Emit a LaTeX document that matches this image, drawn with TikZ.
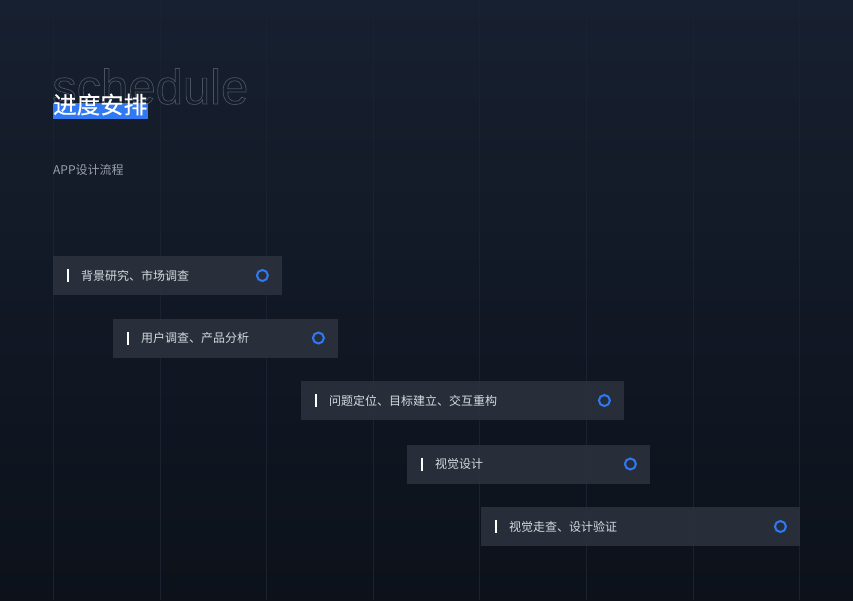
\documentclass[tikz,border=0pt]{standalone}
\usepackage{fontspec}
\setmainfont{Liberation Sans}
\newfontfamily\cjk{Noto Sans CJK SC}
\newfontfamily\cjkmed[FakeBold=0.6]{Noto Sans CJK SC}
\usepackage{xcolor}
\usetikzlibrary{positioning}

\definecolor{bgtop}{HTML}{172030}
\definecolor{bgbot}{HTML}{0C111A}
\definecolor{gridc}{HTML}{1A2230}
\definecolor{boxc}{HTML}{2B313C}
\definecolor{accent}{HTML}{3079F2}
\definecolor{txtc}{HTML}{D6DAE0}
\definecolor{subc}{HTML}{9AA1AB}
\definecolor{outc}{HTML}{4A5262}

\newcommand{\hollow}[1]{\special{pdf:literal direct 1 Tr 0.7 w}#1\special{pdf:literal direct 0 Tr}}

\begin{document}
\begin{tikzpicture}[x=1pt, y=-1pt,
  task/.style={rectangle, fill=boxc, fill opacity=0.92, minimum height=39pt,
               inner sep=0pt, anchor=west},
  tasktxt/.style={anchor=west, inner sep=0pt, text=txtc,
                  font=\cjk\fontsize{12}{14}\selectfont},
  bar/.style={draw=white, line width=2.4pt},
  ring/.style={circle, draw=accent, line width=2pt, minimum size=11pt, inner sep=0pt},
  gl/.style={gridc, line width=0.6pt}
]
%% Background
\shade[top color=bgtop, bottom color=bgbot] (0,0) rectangle (853,600);
\useasboundingbox (0,0) rectangle (853,600);
\foreach \k in {0,...,7}
  \draw[gl] (53.3+106.6*\k,0) -- (53.3+106.6*\k,600);
%% Title
\node[anchor=base west, inner sep=0pt, text=outc,
      font=\fontsize{49}{51}\selectfont] (sched) at (52,104) {\hollow{schedule}};
\fill[accent] (53,103) rectangle (148,119);
\node[anchor=base west, inner sep=0pt, text=white,
      font=\cjkmed\fontsize{23.5}{26}\selectfont] (title) at (53,113.5) {进度安排};
\node[anchor=base west, inner sep=0pt, text=subc,
      font=\cjk\fontsize{12}{14}\selectfont] (sub) at (53,174) {APP设计流程};
%% Step 1
\node[task, minimum width=229pt] (b1) at (53,275.5) {};
\node[tasktxt] (t1) at ([xshift=28pt]b1.west) {背景研究、市场调查};
\draw[bar] ([xshift=15pt,yshift=6.5pt]b1.west) -- ([xshift=15pt,yshift=-6.5pt]b1.west);
\node[ring] (c1) at ([xshift=-20pt]b1.east) {};
%% Step 2
\node[task, minimum width=225pt] (b2) at (113,338) {};
\node[tasktxt] (t2) at ([xshift=28pt]b2.west) {用户调查、产品分析};
\draw[bar] ([xshift=15pt,yshift=6.5pt]b2.west) -- ([xshift=15pt,yshift=-6.5pt]b2.west);
\node[ring] (c2) at ([xshift=-20pt]b2.east) {};
%% Step 3
\node[task, minimum width=323pt] (b3) at (301,400.5) {};
\node[tasktxt] (t3) at ([xshift=28pt]b3.west) {问题定位、目标建立、交互重构};
\draw[bar] ([xshift=15pt,yshift=6.5pt]b3.west) -- ([xshift=15pt,yshift=-6.5pt]b3.west);
\node[ring] (c3) at ([xshift=-20pt]b3.east) {};
%% Step 4
\node[task, minimum width=243pt] (b4) at (407,464) {};
\node[tasktxt] (t4) at ([xshift=28pt]b4.west) {视觉设计};
\draw[bar] ([xshift=15pt,yshift=6.5pt]b4.west) -- ([xshift=15pt,yshift=-6.5pt]b4.west);
\node[ring] (c4) at ([xshift=-20pt]b4.east) {};
%% Step 5
\node[task, minimum width=319pt] (b5) at (481,526.5) {};
\node[tasktxt] (t5) at ([xshift=28pt]b5.west) {视觉走查、设计验证};
\draw[bar] ([xshift=15pt,yshift=6.5pt]b5.west) -- ([xshift=15pt,yshift=-6.5pt]b5.west);
\node[ring] (c5) at ([xshift=-20pt]b5.east) {};
\end{tikzpicture}
\end{document}
